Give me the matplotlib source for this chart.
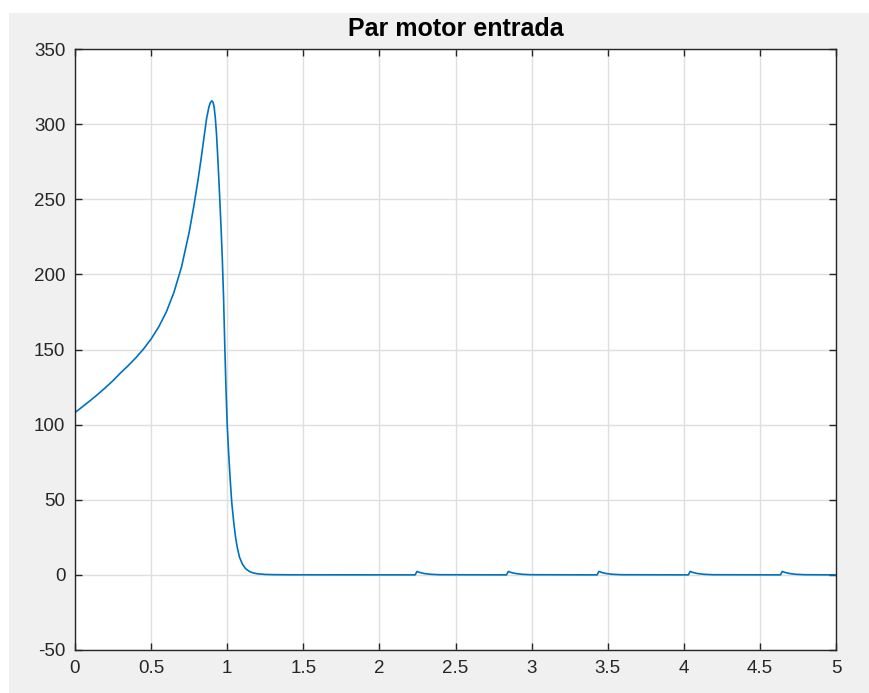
import numpy as np
import matplotlib.pyplot as plt
from matplotlib.patches import Rectangle

plt.rcParams['font.family'] = ['Liberation Sans', 'DejaVu Sans']
plt.rcParams['axes.unicode_minus'] = False

# tiempo (s) y par motor de entrada (N·m) durante el arranque
t_arranque = [0.0, 0.05, 0.1, 0.15, 0.2, 0.25, 0.3, 0.35, 0.4, 0.45,
              0.5, 0.55, 0.6, 0.65, 0.7, 0.75, 0.78, 0.81, 0.83, 0.85,
              0.865, 0.88, 0.89, 0.899, 0.907, 0.914, 0.922, 0.93, 0.94, 0.951,
              0.96, 0.968, 0.976, 0.984, 0.992, 1.0, 1.01, 1.02, 1.03, 1.044,
              1.055, 1.066, 1.08, 1.099, 1.12, 1.142, 1.17, 1.2, 1.25, 1.3,
              1.4]
par_arranque = [108.0, 112.0, 116.0, 120.2, 124.6, 129.3, 134.5, 139.3, 144.5, 150.3,
                157.0, 165.0, 175.0, 188.0, 205.0, 228.0, 245.0, 264.0, 278.0, 293.0,
                304.0, 311.5, 314.5, 315.5, 314.5, 311.5, 304.0, 293.0, 274.0, 250.7,
                230.0, 210.0, 185.0, 153.0, 124.0, 100.0, 80.0, 63.0, 48.0, 34.0,
                25.0, 18.4, 12.0, 7.3, 4.2, 2.5, 1.3, 0.7, 0.3, 0.15,
                0.05]

# pequeños picos periodicos en regimen
t_regimen = [2.235, 2.247, 2.265, 2.295, 2.335, 2.395, 2.835,
             2.835, 2.847, 2.865, 2.895, 2.935, 2.995, 3.43,
             3.43, 3.442, 3.46, 3.49, 3.53, 3.59, 4.03,
             4.03, 4.042, 4.06, 4.09, 4.13, 4.19, 4.635,
             4.635, 4.647, 4.665, 4.695, 4.735, 4.795, 5.0]
par_regimen = [0.0, 2.3, 1.6, 0.9, 0.4, 0.1, 0.0,
               0.0, 2.3, 1.6, 0.9, 0.4, 0.1, 0.0,
               0.0, 2.3, 1.6, 0.9, 0.4, 0.1, 0.0,
               0.0, 2.3, 1.6, 0.9, 0.4, 0.1, 0.0,
               0.0, 2.3, 1.6, 0.9, 0.4, 0.1, 0.0]

t = t_arranque + t_regimen
par = par_arranque + par_regimen

xticks = [0, 0.5, 1, 1.5, 2, 2.5, 3, 3.5, 4, 4.5, 5]
xlabels = ['0', '0.5', '1', '1.5', '2', '2.5', '3', '3.5', '4', '4.5', '5']
yticks = [-50, 0, 50, 100, 150, 200, 250, 300, 350]

fig = plt.figure(figsize=(8.69, 6.93), dpi=100, facecolor='white')
fig.patches.append(Rectangle((9 / 869, 0), 1, 1 - 13 / 693, transform=fig.transFigure,
                             facecolor='#f0f0f0', edgecolor='none', zorder=-1))

ax = fig.add_axes([75 / 869, 1 - 650 / 693, 761 / 869, 601 / 693])
ax.plot(t, par, color='#0072BD', lw=1.2)

ax.set_xlim(0, 5)
ax.set_ylim(-50, 350)
ax.set_xticks(xticks, labels=xlabels)
ax.set_yticks(yticks)
ax.grid(True, color='#dfdfdf', lw=1.0)
ax.set_axisbelow(True)
ax.tick_params(direction='in', top=True, right=True, length=5, width=1,
               colors='#262626', labelsize=13.5, pad=7)
for s in ax.spines.values():
    s.set_color('#262626')
    s.set_linewidth(1.0)

ax.set_title('Par motor entrada', fontweight='bold', fontsize=18, color='#000000', pad=9)

fig.savefig('out.png', dpi=100, facecolor=fig.get_facecolor())
